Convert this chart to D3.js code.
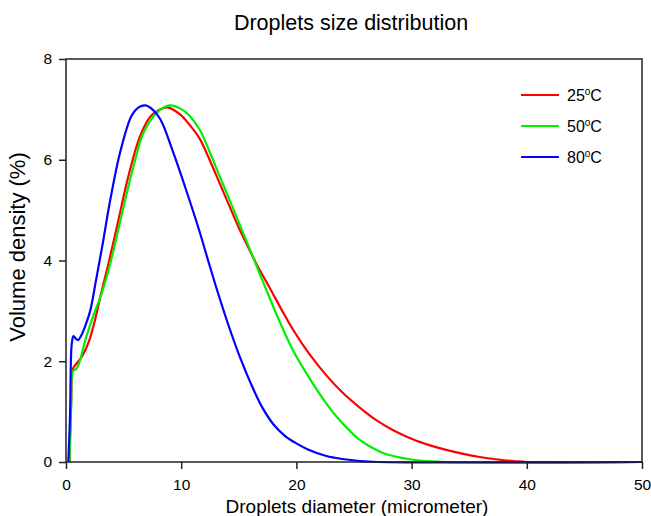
<!DOCTYPE html>
<html>
<head>
<meta charset="utf-8">
<script src="https://cdn.jsdelivr.net/npm/d3@7"></script>
<style>
  body { margin: 0; background: #fff; }
  text { font-family: "Liberation Sans", Arial, sans-serif; }
</style>
</head>
<body>
<div id="chart"></div>
<script>
// Data.
var seriesNames = ["25°C", "50°C", "80°C"];
var seriesColors = ["#ff0000", "#00ee00", "#0000ff"];

var x25 = [0.3, 0.45, 0.6, 0.9, 1.4, 2.0, 2.5, 3.0, 3.7, 4.5, 5.4, 6.4, 7.3, 8.0, 8.8, 9.9, 10.7, 11.6, 12.5, 13.4, 14.3, 15.1, 16.0, 16.6, 17.7, 18.7, 19.7, 21.1, 22.6, 24.0, 25.5, 27.0, 28.4, 30.1, 31.6, 33.0, 34.5, 35.9, 37.5, 39.0, 40.0, 50.0];
var y25 = [0, 1.2, 1.85, 1.95, 2.1, 2.4, 2.8, 3.3, 3.95, 4.75, 5.66, 6.45, 6.85, 6.98, 7.04, 6.9, 6.7, 6.42, 5.98, 5.5, 5.02, 4.6, 4.18, 3.9, 3.45, 3.03, 2.63, 2.15, 1.72, 1.38, 1.08, 0.82, 0.63, 0.45, 0.33, 0.24, 0.16, 0.1, 0.05, 0.015, 0, 0];

var x50 = [0.3, 0.45, 0.6, 0.9, 1.2, 1.65, 2.4, 3.1, 3.8, 5.0, 5.85, 6.7, 7.9, 9.0, 9.9, 10.7, 11.6, 12.5, 13.4, 14.3, 15.1, 16.0, 16.6, 17.6, 18.6, 19.7, 21.2, 22.6, 23.8, 25.5, 27.3, 28.4, 30.0, 31.3, 33.0, 50.0];
var y50 = [0, 1.1, 1.8, 1.85, 2.0, 2.4, 2.92, 3.35, 3.9, 5.07, 5.86, 6.52, 6.94, 7.08, 7.02, 6.88, 6.6, 6.14, 5.64, 5.15, 4.7, 4.2, 3.86, 3.3, 2.76, 2.22, 1.64, 1.16, 0.82, 0.44, 0.2, 0.12, 0.05, 0.02, 0, 0];

var x80 = [0.2, 0.35, 0.5, 0.65, 0.85, 1.05, 1.3, 1.7, 2.1, 2.6, 3.2, 3.8, 4.7, 5.7, 6.3, 6.9, 7.5, 8.2, 9.3, 10.5, 11.6, 12.4, 13.2, 14.2, 15.1, 16.0, 17.0, 18.0, 19.0, 20.0, 21.0, 22.6, 24.0, 25.5, 27.0, 50.0];
var y80 = [0, 0.9, 2.35, 2.5, 2.45, 2.42, 2.5, 2.72, 3.0, 3.6, 4.35, 5.15, 6.15, 6.88, 7.04, 7.08, 7.0, 6.8, 6.15, 5.35, 4.57, 3.95, 3.35, 2.65, 2.08, 1.58, 1.1, 0.75, 0.52, 0.37, 0.25, 0.12, 0.06, 0.02, 0, 0];

var xTicks = [0, 10, 20, 30, 40, 50];
var yTicks = [0, 2, 4, 6, 8];

// Dimensions and margins.
var W = 651, H = 516;
var margin = {top: 59, right: 9, bottom: 54, left: 66},
    width = W - margin.left - margin.right,
    height = H - margin.top - margin.bottom;

var svg = d3.select("#chart")
    .append("svg")
    .attr("width", W)
    .attr("height", H);

var g = svg.append("g")
    .attr("transform", "translate(" + margin.left + "," + margin.top + ")");

// Scales.
var xScale = d3.scaleLinear().domain([0, 50]).range([0, width]),
    yScale = d3.scaleLinear().domain([0, 8]).range([height, 0]);

// Title and axis labels.
svg.append("text")
    .attr("x", 351)
    .attr("y", 30)
    .attr("text-anchor", "middle")
    .style("font-size", "21.5px")
    .text("Droplets size distribution");

svg.append("text")
    .attr("x", 357)
    .attr("y", 513)
    .attr("text-anchor", "middle")
    .style("font-size", "19px")
    .text("Droplets diameter (micrometer)");

svg.append("text")
    .attr("transform", "translate(25,247) rotate(-90)")
    .attr("text-anchor", "middle")
    .style("font-size", "22px")
    .text("Volume density (%)");

// Lines.
var line = d3.line()
    .x(function(d) { return xScale(d[0]); })
    .y(function(d) { return yScale(Math.max(0, d[1])); })
    .curve(d3.curveCatmullRom.alpha(0.5));

var series = [d3.zip(x25, y25), d3.zip(x50, y50), d3.zip(x80, y80)];

series.forEach(function(pts, i) {
    g.append("path")
        .datum(pts)
        .attr("fill", "none")
        .attr("stroke", seriesColors[i])
        .attr("stroke-width", 2.2)
        .attr("stroke-linejoin", "round")
        .attr("d", line);
});

// Frame.
g.append("rect")
    .attr("width", width)
    .attr("height", height)
    .attr("fill", "none")
    .attr("stroke", "#222")
    .attr("stroke-width", 1.5);

// Axes.
var xAxis = g.append("g")
    .attr("transform", "translate(0," + height + ")")
    .call(d3.axisBottom(xScale).tickValues(xTicks).tickSize(7).tickPadding(10).tickSizeOuter(0));

var yAxis = g.append("g")
    .call(d3.axisLeft(yScale).tickValues(yTicks).tickSize(7).tickPadding(7).tickSizeOuter(0));

[xAxis, yAxis].forEach(function(ax) {
    ax.select(".domain").remove();
    ax.selectAll("line").attr("stroke", "#222").attr("stroke-width", 1.5);
    ax.selectAll("text")
        .attr("fill", "#000")
        .style("font-family", "'Liberation Sans', Arial, sans-serif")
        .style("font-size", "15.5px");
});

// Legend.
var legend = g.append("g")
    .attr("transform", "translate(" + (521 - margin.left) + "," + (95 - margin.top) + ")");

seriesNames.forEach(function(name, i) {
    var row = legend.append("g").attr("transform", "translate(0," + i * 31 + ")");
    row.append("line")
        .attr("x1", 0).attr("x2", 38)
        .attr("stroke", seriesColors[i])
        .attr("stroke-width", 2.2);
    var t = row.append("text")
        .attr("x", 46)
        .attr("y", 6)
        .style("font-size", "16px");
    t.append("tspan").text(name.slice(0, 2));
    t.append("tspan").attr("dy", -6).style("font-size", "10px").text("o");
    t.append("tspan").attr("dy", 6).text("C");
});
</script>
</body>
</html>
